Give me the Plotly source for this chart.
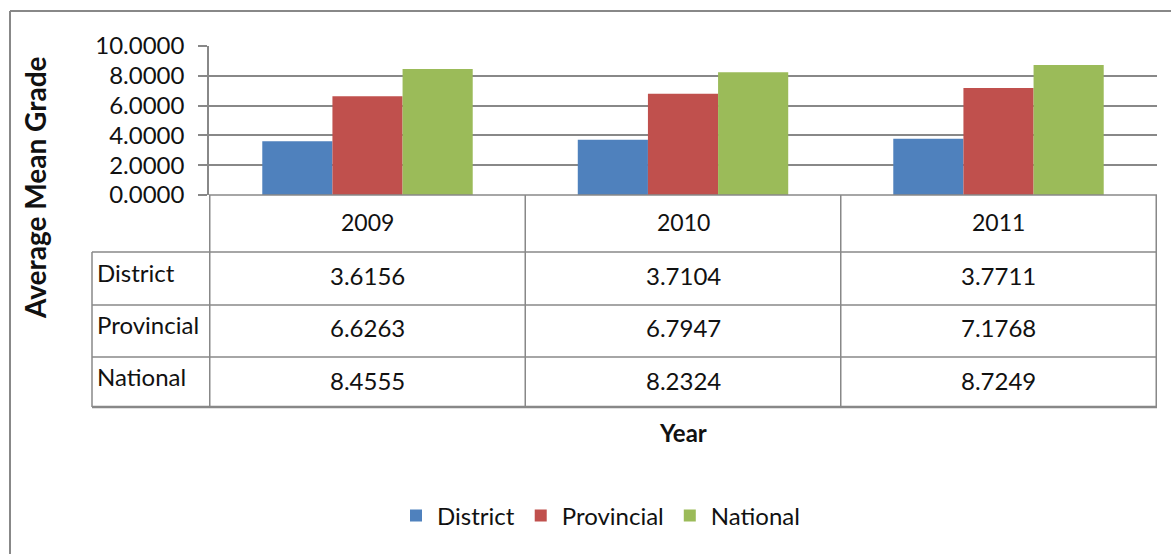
import plotly.graph_objects as go

years = ["2009", "2010", "2011"]
series_names = ["District", "Provincial", "National"]
district = [3.6156, 3.7104, 3.7711]
provincial = [6.6263, 6.7947, 7.1768]
national = [8.4555, 8.2324, 8.7249]
colors = ["#4F81BD", "#C0504D", "#9BBB59"]
y_ticks = [0, 2, 4, 6, 8, 10]

series_values = [district, provincial, national]

W, H = 1171, 554
L, R, T, B = 209, 14, 46, 359
PW = W - L - R
PH = H - T - B


def px(x):
    return (x - L) / PW


def py(y):
    return (H - B - y) / PH


FONT = "Lato"
GRID = "#888888"
TXT = "#111111"
fig = go.Figure()
for name, vals, col in zip(series_names, series_values, colors):
    fig.add_trace(go.Bar(x=years, y=vals, name=name, marker=dict(color=col, line=dict(width=0))))

shapes = []
# outer frame
shapes.append(dict(type="line", xref="paper", yref="paper", x0=px(10), x1=px(10), y0=py(11), y1=py(600),
                   line=dict(color=GRID, width=2)))
shapes.append(dict(type="line", xref="paper", yref="paper", x0=px(10), x1=px(1200), y0=py(11), y1=py(11),
                   line=dict(color=GRID, width=2)))
# table horizontal lines
row_lines = [252, 305, 357, 407]
for i, yl in enumerate(row_lines):
    shapes.append(dict(type="line", xref="paper", yref="paper", x0=px(92), x1=1, y0=py(yl), y1=py(yl),
                       line=dict(color=GRID, width=2.5 if i == len(row_lines) - 1 else 1.5)))
shapes.append(dict(type="line", xref="paper", yref="paper", x0=0, x1=1, y0=0, y1=0,
                   line=dict(color=GRID, width=1.5)))
# verticals
shapes.append(dict(type="line", xref="paper", yref="paper", x0=px(92), x1=px(92), y0=py(252), y1=py(407),
                   line=dict(color=GRID, width=1.5)))
for k in range(len(years) + 1):
    shapes.append(dict(type="line", xref="x", yref="paper", x0=k - 0.5, x1=k - 0.5, y0=0, y1=py(407),
                       line=dict(color=GRID, width=1.5)))

annotations = []
row_y = [275, 327, 380]
for j, yr in enumerate(years):
    annotations.append(dict(x=j, y=py(222), xref="x", yref="paper", text=yr, showarrow=False,
                            xanchor="center", yanchor="middle",
                            font=dict(family=FONT, size=23, color=TXT)))
    for i, vals in enumerate(series_values):
        annotations.append(dict(x=j, y=py(row_y[i]), xref="x", yref="paper", text=f"{vals[j]:.4f}",
                                xanchor="center", yanchor="middle",
                                showarrow=False, font=dict(family=FONT, size=24, color=TXT)))
for i, name in enumerate(series_names):
    annotations.append(dict(x=px(95), y=py(row_y[i] - 3), xref="paper", yref="paper", text=name, showarrow=False,
                            xanchor="left", yanchor="middle", font=dict(family=FONT, size=24, color=TXT)))
annotations.append(dict(x=0.5, y=py(432), xref="paper", yref="paper", text="<b>Year</b>", showarrow=False,
                        xanchor="center", yanchor="middle",
                        font=dict(family=FONT, size=24, color=TXT)))
annotations.append(dict(x=px(35), y=py(188), xref="paper", yref="paper", text="<b>Average Mean Grade</b>",
                        xanchor="center", yanchor="middle",
                        textangle=-90, showarrow=False, font=dict(family=FONT, size=28, color=TXT)))

fig.update_layout(
    width=W, height=H,
    margin=dict(l=L, r=R, t=T, b=B, pad=0, autoexpand=False),
    paper_bgcolor="white", plot_bgcolor="white",
    barmode="group", bargap=0.333, bargroupgap=0,
    font=dict(family=FONT, size=22, color=TXT),
    showlegend=True,
    legend=dict(orientation="h", xref="container", yref="container", x=600 / W, xanchor="center",
                y=1 - 516 / H, yanchor="middle",
                font=dict(family=FONT, size=24, color=TXT), itemwidth=32, traceorder="normal"),
    shapes=shapes, annotations=annotations,
)
fig.update_xaxes(type="category", showticklabels=False, showgrid=False, showline=False, zeroline=False, ticks="",
                 automargin=False)
fig.update_yaxes(range=[0, 10], tickvals=y_ticks, tickformat=".4f", showgrid=True, gridcolor=GRID, gridwidth=1.5,
                 zeroline=False, showline=True, linecolor=GRID, linewidth=1.5, ticks="outside", ticklen=9,
                 tickcolor=GRID, tickwidth=1.5, ticklabelstandoff=9, automargin=False,
                 tickfont=dict(family=FONT, size=24, color=TXT))

fig.write_html("out.html", post_script="document.body.style.margin='0';",
               config={"displayModeBar": False})
